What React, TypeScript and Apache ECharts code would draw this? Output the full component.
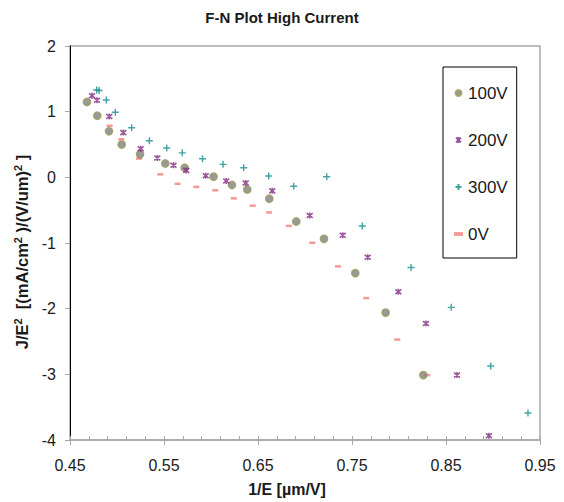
import React, { useEffect, useRef } from "react";
import * as echarts from "echarts";

const FONT = '"Liberation Sans", Arial, Helvetica, sans-serif';

const seriesNames = ["100V", "200V", "300V", "0V"];

const x100 = [0.468, 0.479, 0.4915, 0.505, 0.5245, 0.5514, 0.572, 0.6027, 0.6223, 0.6386, 0.662, 0.6907, 0.7202, 0.7535, 0.7858, 0.8259];
const y100 = [1.147, 0.937, 0.702, 0.5, 0.35, 0.21, 0.146, 0.01, -0.116, -0.185, -0.326, -0.672, -0.937, -1.459, -2.06, -3.012];

const x200 = [0.4734, 0.4787, 0.4918, 0.5067, 0.5252, 0.5429, 0.5601, 0.5737, 0.5944, 0.6162, 0.6369, 0.6652, 0.705, 0.7401, 0.7667, 0.7993, 0.8287, 0.8617, 0.8957];
const y200 = [1.241, 1.173, 0.925, 0.681, 0.436, 0.293, 0.185, 0.105, 0.023, -0.056, -0.086, -0.206, -0.582, -0.883, -1.218, -1.741, -2.226, -3.012, -3.935];

const x300 = [0.4784, 0.4809, 0.4886, 0.4982, 0.5156, 0.5344, 0.5529, 0.5694, 0.591, 0.6128, 0.6348, 0.6614, 0.688, 0.7231, 0.761, 0.8128, 0.8556, 0.8976, 0.9372];
const y300 = [1.331, 1.323, 1.177, 0.992, 0.756, 0.556, 0.447, 0.373, 0.283, 0.198, 0.146, 0.02, -0.135, 0.01, -0.741, -1.373, -1.98, -2.872, -3.589];

const x0 = [0.4922, 0.5046, 0.5234, 0.5461, 0.5644, 0.5844, 0.6045, 0.6243, 0.6444, 0.6617, 0.6828, 0.7077, 0.7351, 0.7652, 0.7982, 0.8301];
const y0 = [0.786, 0.579, 0.286, 0.045, -0.098, -0.146, -0.198, -0.32, -0.432, -0.534, -0.74, -0.997, -1.356, -1.839, -2.471, -3.012];

const yTicks = [-4, -3, -2, -1, 0, 1, 2];

const STAR = "path://M1,1L9,9M9,1L1,9M5,0L5,10";
const PLUS = "path://M5,0L5,10M0,5L10,5";
const DASH = "path://M0,0h7v3h-7z";

const zip = (xs: number[], ys: number[]) => xs.map((x, i) => [x, ys[i]]);

export default function App() {
  const ref = useRef<HTMLDivElement>(null);
  useEffect(() => {
    if (!ref.current) return;
    const chart = echarts.init(ref.current, undefined, { renderer: "svg" });
    const axisGray = "#a8a8a8";
    const txt = "#1a1a1a";
    chart.setOption({
      animation: false,
      backgroundColor: "#ffffff",
      textStyle: { fontFamily: FONT },
      title: {
        text: "F-N Plot High Current",
        left: "center",
        top: 10,
        padding: 0,
        textStyle: { fontFamily: FONT, fontSize: 15, fontWeight: "bold", color: txt },
      },
      grid: {
        left: 70,
        right: 24,
        top: 46,
        bottom: 57,
        show: true,
        borderColor: axisGray,
        borderWidth: 1.5,
        backgroundColor: "transparent",
      },
      legend: {
        orient: "vertical",
        left: 443,
        top: 67,
        padding: [16, 9, 14, 11],
        itemGap: 27,
        itemWidth: 9,
        itemHeight: 6,
        borderColor: "#000",
        borderWidth: 1,
        textStyle: { fontFamily: FONT, fontSize: 17, color: txt, lineHeight: 20 },
        data: [
          { name: seriesNames[0], icon: "circle" },
          { name: seriesNames[1], icon: STAR },
          { name: seriesNames[2], icon: PLUS },
          { name: seriesNames[3], icon: DASH },
        ],
      },
      xAxis: [
        {
          type: "value",
          min: 0.45,
          max: 0.95,
          interval: 0.1,
          position: "bottom",
          axisLine: { onZero: false, lineStyle: { color: axisGray, width: 1.5 } },
          axisTick: { show: true, length: 5, lineStyle: { color: axisGray } },
          axisLabel: {
            formatter: (v: number) => v.toFixed(2),
            fontSize: 16,
            color: txt,
            margin: 17,
            fontFamily: FONT,
            showMinLabel: true,
            showMaxLabel: true,
          },
          splitLine: { show: false },
          name: "1/E [µm/V]",
          nameLocation: "middle",
          nameGap: 41,
          nameTextStyle: {
            fontFamily: FONT,
            fontSize: 16,
            fontWeight: "bold",
            color: txt,
            padding: [0, 36, 0, 0],
          },
        },
        {
          type: "value",
          min: 0.45,
          max: 0.95,
          interval: 0.1,
          position: "bottom",
          axisLine: { show: false, onZero: false },
          axisLabel: { show: false },
          axisTick: { show: true, inside: true, length: 4, lineStyle: { color: axisGray } },
          minorTick: { show: true, splitNumber: 5, length: 4, lineStyle: { color: axisGray } },
          splitLine: { show: false },
        },
      ],
      yAxis: {
        type: "value",
        min: yTicks[0],
        max: yTicks[yTicks.length - 1],
        interval: 1,
        axisLine: { show: true, onZero: false, lineStyle: { color: "#000", width: 1 } },
        axisTick: { show: true, length: 5, lineStyle: { color: axisGray } },
        axisLabel: { fontSize: 16, color: txt, margin: 14, fontFamily: FONT },
        splitLine: { show: false },
        name: "J/E{s|2}  [(mA/cm{s|2} )/(V/um){s|2} ]",
        nameLocation: "middle",
        nameGap: 29,
        nameRotate: 90,
        nameTextStyle: {
          fontFamily: FONT,
          fontSize: 16.5,
          fontWeight: "bold",
          color: txt,
          padding: [0, 18, 0, 0],
          rich: {
            s: {
              fontFamily: FONT,
              fontSize: 11,
              fontWeight: "bold",
              color: txt,
              verticalAlign: "top",
              padding: [0, 0, 8, 0],
            },
          },
        },
      },
      series: [
        {
          name: seriesNames[0],
          type: "scatter",
          xAxisIndex: 0,
          data: zip(x100, y100),
          symbol: "circle",
          symbolSize: 7.5,
          itemStyle: { color: "#808080", borderColor: "#9c9c58", borderWidth: 1.3 },
          z: 3,
        },
        {
          name: seriesNames[1],
          type: "scatter",
          xAxisIndex: 0,
          data: zip(x200, y200),
          symbol: STAR,
          symbolSize: 6,
          itemStyle: { color: "#7f2a80", borderColor: "#7f2a80", borderWidth: 1.6 },
          z: 4,
        },
        {
          name: seriesNames[2],
          type: "scatter",
          xAxisIndex: 0,
          data: zip(x300, y300),
          symbol: PLUS,
          symbolSize: 7,
          itemStyle: { color: "#128c8c", borderColor: "#128c8c", borderWidth: 1.4 },
          z: 5,
        },
        {
          name: seriesNames[3],
          type: "scatter",
          xAxisIndex: 0,
          data: zip(x0, y0),
          symbol: DASH,
          symbolSize: [6, 2.5],
          symbolKeepAspect: false,
          itemStyle: { color: "#f37f7a" },
          z: 2,
        },
      ],
    });
    return () => chart.dispose();
  }, []);
  return <div ref={ref} style={{ width: 564, height: 502, position: "absolute", left: 0, top: 0 }} />;
}
